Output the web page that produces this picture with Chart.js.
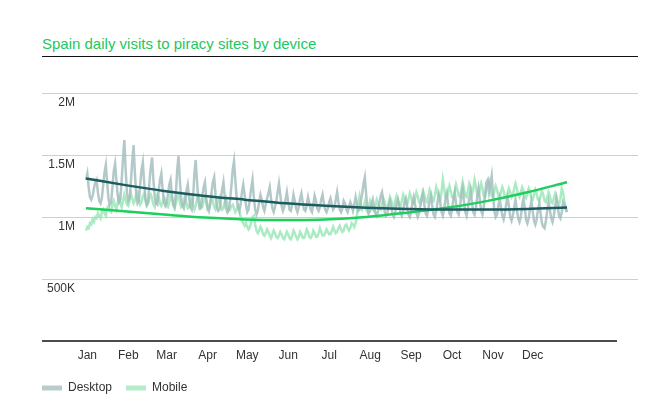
<!DOCTYPE html>
<html>
<head>
<meta charset="utf-8">
<script src="https://cdn.jsdelivr.net/npm/chart.js@4"></script>
<style>
  body { margin: 0; background: #fff; }
  #wrap { position: relative; width: 672px; height: 416px; }
  #title { position: absolute; left: 42px; top: 35px; font: 15px "Liberation Sans", Arial, sans-serif; color: #1ec760; }
  #rule { position: absolute; left: 42px; top: 56px; width: 596px; border-top: 1.5px solid #111; }
  canvas { position: absolute; left: 0; top: 0; }
</style>
</head>
<body>
<div id="wrap">
  <div id="title">Spain daily visits to piracy sites by device</div>
  <div id="rule"></div>
  <canvas id="chart" width="672" height="416"></canvas>
</div>
<script>
// daily visits in thousands, day 0 = Jan 1
const desktop = [
  // Jan
  1300,1350,1240,1160,1140,1170,1230,1280,1300,1200,1130,1110,1150,1260,1360,1420,1280,1150,1100,1120,1240,1370,1430,1300,1170,1120,1140,1300,1470,1620,1380,
  // Feb
  1190,1130,1150,1290,1450,1580,1350,1180,1110,1130,1260,1380,1440,1280,1150,1100,1120,1280,1400,1480,1300,1160,1110,1100,1210,1300,1350,1220,
  // Mar
  1120,1090,1110,1180,1260,1300,1180,1100,1080,1190,1380,1490,1300,1150,1090,1070,1130,1210,1260,1160,1080,1060,1150,1350,1460,1290,1130,1070,1080,1170,1240,
  // Apr
  1280,1150,1080,1050,1100,1200,1280,1320,1180,1080,1050,1060,1150,1220,1280,1160,1070,1040,1060,1130,1250,1380,1450,1300,1150,1080,1050,1100,1200,1260,
  // May
  1180,1100,1040,1060,1150,1230,1300,1160,1060,1020,1050,1120,1180,1140,1080,1050,1100,1150,1190,1240,1150,1070,1040,1080,1130,1200,1270,1180,1090,1050,1080,
  // Jun
  1140,1200,1120,1060,1050,1100,1180,1130,1070,1040,1080,1150,1190,1120,1060,1050,1090,1160,1110,1060,1040,1100,1170,1130,1070,1050,1080,1140,1180,1110,
  // Jul
  1060,1040,1070,1120,1150,1100,1060,1080,1140,1200,1120,1060,1040,1070,1130,1110,1060,1040,1080,1120,1090,1050,1100,1160,1100,1050,1060,1130,1190,1270,1320,
  // Aug
  1180,1070,1030,1050,1100,1140,1080,1030,1010,1050,1110,1170,1200,1120,1040,1010,1030,1090,1130,1080,1020,1000,1040,1100,1140,1090,1030,1010,1050,1120,1150,
  // Sep
  1080,1020,1000,1040,1110,1160,1100,1030,1000,1030,1090,1150,1190,1100,1030,1010,1060,1130,1170,1090,1020,1000,1050,1120,1180,1120,1040,1010,1060,1140,
  // Oct
  1190,1100,1030,1010,1060,1140,1200,1110,1040,1020,1080,1170,1230,1130,1040,1010,1070,1150,1210,1120,1040,1020,1070,1160,1230,1140,1050,1020,1080,1190,1280,
  // Nov
  1300,1200,1260,1330,1180,1050,1000,1020,1090,1150,1080,1010,980,1030,1110,1160,1090,1000,970,1010,1080,1140,1060,990,960,1000,1090,1150,1070,980,
  // Dec
  950,990,1070,1130,1050,970,940,980,1060,1110,1030,950,920,910,970,1050,1120,1060,990,960,1010,1090,1150,1080,1010,990,1040,1120,1100,1060,1040
];

const mobile = [
  // Jan
  890,920,910,950,940,980,960,1000,990,1030,1010,990,1040,1060,1030,1010,1070,1090,1050,1040,1100,1130,1090,1060,1120,1160,1110,1080,1130,1180,1140,
  // Feb
  1100,1090,1140,1190,1150,1110,1130,1180,1200,1140,1100,1120,1170,1190,1130,1090,1110,1160,1180,1150,1100,1080,1130,1180,1160,1110,1090,1120,
  // Mar
  1160,1140,1090,1080,1120,1170,1150,1100,1070,1110,1160,1180,1120,1080,1090,1140,1170,1110,1070,1080,1130,1160,1100,1060,1090,1150,1180,1120,1070,1080,1130,
  // Apr
  1160,1110,1060,1070,1120,1170,1130,1080,1060,1090,1140,1160,1100,1060,1070,1120,1150,1100,1050,1060,1090,1100,1070,1040,1060,1090,1050,1000,970,950,
  // May
  930,950,920,900,920,960,1000,1010,940,890,870,890,920,900,860,850,870,900,880,850,830,860,890,870,840,830,850,880,860,830,820,
  // Jun
  850,880,860,830,820,850,890,870,840,820,840,880,860,830,830,860,900,880,840,830,850,890,870,840,840,870,910,880,850,850,
  // Jul
  870,900,880,860,860,890,920,890,870,880,910,930,900,880,890,930,940,910,890,910,950,940,920,950,1010,1120,1170,1100,1060,1080,1120,
  // Aug
  1060,1040,1080,1130,1100,1060,1050,1090,1140,1110,1070,1060,1100,1150,1120,1080,1070,1110,1160,1130,1090,1080,1130,1170,1140,1100,1090,1130,1180,1150,1110,
  // Sep
  1100,1140,1190,1160,1120,1110,1150,1200,1170,1120,1110,1160,1210,1180,1130,1120,1170,1220,1190,1140,1130,1180,1240,1200,1150,1140,1200,1300,1230,1160,
  // Oct
  1150,1200,1250,1210,1160,1150,1200,1260,1220,1170,1160,1220,1280,1230,1170,1160,1210,1270,1240,1180,1220,1300,1250,1180,1170,1220,1270,1230,1170,1160,1210,
  // Nov
  1260,1290,1230,1170,1160,1210,1250,1220,1170,1160,1200,1240,1210,1160,1150,1190,1230,1200,1160,1180,1230,1270,1230,1180,1160,1200,1240,1210,1160,1150,
  // Dec
  1190,1230,1200,1150,1140,1180,1220,1190,1140,1130,1170,1210,1180,1130,1120,1160,1200,1170,1120,1110,1150,1190,1160,1110,1100,1150,1230,1200,1120,1080,1040
];

// trend lines, read at the start of each month (and the last day)
const trendDays = [0, 31, 59, 90, 120, 151, 181, 212, 243, 273, 304, 334, 364];
const desktopTrend = [1310, 1255, 1210, 1170, 1140, 1110, 1090, 1075, 1065, 1060, 1060, 1065, 1077];
const mobileTrend = [1070, 1045, 1020, 995, 980, 975, 980, 1000, 1035, 1075, 1130, 1200, 1280];

const months = ['Jan', 'Feb', 'Mar', 'Apr', 'May', 'Jun', 'Jul', 'Aug', 'Sep', 'Oct', 'Nov', 'Dec'];
const monthTicks = [1, 32, 61, 92, 122, 153, 184, 215, 246, 277, 308, 338];
const yTicks = [0, 500000, 1000000, 1500000, 2000000];

function toPoints(days, vals) {
  return vals.map((v, i) => ({ x: days ? days[i] : i, y: v * 1000 }));
}

// black base line under the plot
const baseLine = {
  id: 'baseLine',
  afterDatasetsDraw(chart) {
    const y = chart.scales.y.getPixelForValue(0);
    const ctx = chart.ctx;
    ctx.save();
    ctx.strokeStyle = '#111';
    ctx.lineWidth = 1.5;
    ctx.beginPath();
    ctx.moveTo(chart.chartArea.left, y);
    ctx.lineTo(chart.chartArea.right - 21, y);
    ctx.stroke();
    ctx.restore();
  }
};

const ctx = document.getElementById('chart');
new Chart(ctx, {
  type: 'line',
  data: {
    datasets: [
      {
        label: 'Desktop trend',
        data: toPoints(trendDays, desktopTrend),
        borderColor: '#1d5c5e',
        borderWidth: 2.5,
        cubicInterpolationMode: 'monotone',
        order: 0
      },
      {
        label: 'Mobile trend',
        data: toPoints(trendDays, mobileTrend),
        borderColor: '#1ccf5e',
        borderWidth: 2.5,
        cubicInterpolationMode: 'monotone',
        order: 0
      },
      {
        label: 'Desktop',
        data: toPoints(null, desktop),
        borderColor: 'rgba(160,187,187,0.8)',
        backgroundColor: '#b9cccc',
        borderWidth: 2.5,
        order: 1
      },
      {
        label: 'Mobile',
        data: toPoints(null, mobile),
        borderColor: 'rgba(150,230,180,0.8)',
        backgroundColor: '#b3ecc8',
        borderWidth: 2.5,
        order: 2
      }
    ]
  },
  options: {
    responsive: false,
    animation: false,
    events: [],
    elements: { point: { radius: 0 }, line: { tension: 0 } },
    layout: { padding: { top: 93, right: 34, bottom: 12, left: 28 } },
    scales: {
      x: {
        type: 'linear',
        min: -33.3,
        max: 417.7,
        afterBuildTicks(scale) { scale.ticks = monthTicks.map(v => ({ value: v })); },
        afterFit(scale) { scale.height = 27; },
        grid: { display: false, drawTicks: false },
        border: { display: false },
        ticks: {
          padding: 7,
          color: '#333',
          font: { family: '"Liberation Sans", Arial, sans-serif', size: 12 },
          callback: (v, i) => months[i]
        }
      },
      y: {
        min: 0,
        max: 2000000,
        afterBuildTicks(scale) { scale.ticks = yTicks.map(v => ({ value: v })); },
        afterFit(scale) { scale.width = 14; },
        grid: {
          color: (c) => c.tick && c.tick.value === 0 ? 'rgba(0,0,0,0)' : '#cfcfcf',
          lineWidth: 1,
          drawTicks: false
        },
        border: { display: false },
        ticks: {
          mirror: true,
          crossAlign: 'far',
          padding: 5,
          labelOffset: 10,
          color: '#333',
          font: { family: '"Liberation Sans", Arial, sans-serif', size: 12 },
          callback: (v) => v === 0 ? '' : (v < 1000000 ? (v / 1000) + 'K' : (v / 1000000) + 'M')
        }
      }
    },
    plugins: {
      title: { display: false },
      tooltip: { enabled: false },
      legend: {
        position: 'bottom',
        align: 'start',
        labels: {
          boxWidth: 20,
          boxHeight: 5,
          padding: 14,
          color: '#333',
          font: { family: '"Liberation Sans", Arial, sans-serif', size: 12 },
          filter: (item) => item.text === 'Desktop' || item.text === 'Mobile',
          generateLabels(chart) {
            const items = Chart.defaults.plugins.legend.labels.generateLabels(chart);
            items.forEach(it => { it.lineWidth = 0; it.strokeStyle = 'rgba(0,0,0,0)'; });
            return items;
          }
        }
      }
    }
  },
  plugins: [baseLine]
});
</script>
</body>
</html>
